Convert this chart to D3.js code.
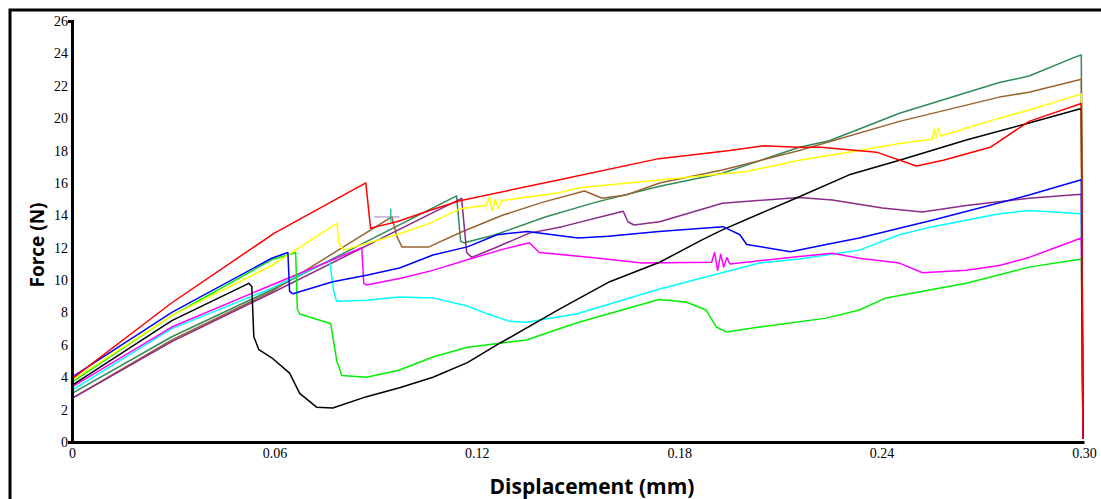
<!DOCTYPE html>
<html>
<head>
<meta charset="utf-8">
<script src="https://cdn.jsdelivr.net/npm/d3@7"></script>
<style>
  body { margin: 0; background: #fff; }
  svg { display: block; }
</style>
</head>
<body>
<div id="chart"></div>
<script>
// tick labels
var xTicks = [0, 0.06, 0.12, 0.18, 0.24, 0.30];
var yTicks = [0, 2, 4, 6, 8, 10, 12, 14, 16, 18, 20, 22, 24, 26];

// force-displacement curves, [displacement mm, force N]
var redCurve = [[0,3.9],[0.0296,8.6],[0.06,12.9],[0.0871,16.0],[0.0885,13.2],[0.0903,13.3],[0.0963,13.6],[0.106,14.3],
  [0.115,14.9],[0.1445,16.2],[0.174,17.5],[0.195,18.0],[0.205,18.3],[0.215,18.2],[0.222,18.2],[0.2385,17.9],
  [0.2503,17.05],[0.2583,17.4],[0.2722,18.2],[0.2837,19.8],[0.2992,20.9],[0.2997,0.2]];
var blueCurve = [[0,4.0],[0.0296,8.0],[0.0592,11.35],[0.064,11.7],[0.0645,9.3],[0.0655,9.15],[0.0773,9.9],[0.0873,10.3],
  [0.0971,10.75],[0.107,11.55],[0.1172,12.05],[0.126,12.8],[0.135,13.0],[0.150,12.6],[0.159,12.7],[0.174,13.0],
  [0.193,13.3],[0.198,12.8],[0.2,12.2],[0.213,11.75],[0.2236,12.2],[0.2334,12.6],[0.255,13.7],[0.2837,15.25],
  [0.2992,16.2],[0.2997,0.2]];
var greenCurve = [[0,3.7],[0.0296,7.8],[0.0592,11.25],[0.0663,11.7],[0.0668,8.2],[0.0675,7.9],[0.0761,7.35],[0.0767,7.3],
  [0.0785,5.0],[0.080,4.1],[0.0873,4.0],[0.0971,4.45],[0.107,5.25],[0.1172,5.85],[0.1347,6.3],[0.1495,7.35],
  [0.174,8.8],[0.182,8.65],[0.188,8.15],[0.191,7.1],[0.194,6.8],[0.2038,7.1],[0.2236,7.65],[0.2334,8.15],
  [0.2413,8.9],[0.2651,9.8],[0.2837,10.8],[0.2992,11.3],[0.2997,0.2]];
var yellowCurve = [[0,3.8],[0.0296,7.8],[0.0592,10.9],[0.0785,13.5],[0.0791,12.3],[0.0805,11.85],[0.0963,12.8],[0.106,13.5],
  [0.115,14.4],[0.1228,14.6],[0.1237,15.1],[0.1246,14.3],[0.1255,15.0],[0.1264,14.4],[0.1273,14.9],[0.1445,15.4],
  [0.1504,15.7],[0.175,16.2],[0.2,16.7],[0.2156,17.4],[0.2334,18.0],[0.2457,18.45],[0.2550,18.7],[0.2556,19.3],
  [0.2562,18.8],[0.2568,19.4],[0.2575,18.9],[0.2749,20.0],[0.2837,20.5],[0.2992,21.5],[0.2997,0.2]];
var blackCurve = [[0,3.5],[0.0296,7.5],[0.0524,9.8],[0.0533,9.6],[0.0539,6.5],[0.0554,5.7],[0.0592,5.2],[0.0645,4.25],
  [0.0675,3.0],[0.0725,2.15],[0.0773,2.1],[0.0873,2.8],[0.0971,3.35],[0.107,4.0],[0.1172,4.9],[0.1268,6.1],
  [0.1445,8.2],[0.1594,9.9],[0.1742,11.1],[0.1869,12.5],[0.1928,13.1],[0.2156,15.15],[0.2304,16.5],[0.2453,17.4],
  [0.2651,18.65],[0.2837,19.7],[0.2992,20.6],[0.2997,0.2]];
var cyanCurve = [[0,3.2],[0.0296,7.0],[0.0592,9.5],[0.0764,11.2],[0.0775,9.4],[0.0784,8.7],[0.0873,8.75],[0.0971,8.95],
  [0.107,8.9],[0.1172,8.4],[0.1233,7.9],[0.1297,7.45],[0.1347,7.4],[0.1495,7.9],[0.1742,9.45],[0.2038,11.05],
  [0.2156,11.3],[0.2334,11.85],[0.2453,12.8],[0.2551,13.3],[0.2749,14.1],[0.2837,14.3],[0.2992,14.1],[0.2997,0.2]];
var magentaCurve = [[0,3.4],[0.0296,7.1],[0.0592,9.7],[0.0859,12.0],[0.0865,9.8],[0.0873,9.7],[0.0971,10.1],[0.107,10.6],
  [0.1172,11.25],[0.1268,11.85],[0.1356,12.3],[0.1385,11.7],[0.1541,11.4],[0.169,11.05],[0.1896,11.1],[0.1905,11.7],
  [0.1914,10.6],[0.1923,11.6],[0.1932,10.8],[0.1941,11.4],[0.1950,11.0],[0.2156,11.45],[0.2254,11.65],[0.2334,11.35],
  [0.2453,11.05],[0.2521,10.45],[0.2651,10.6],[0.2749,10.9],[0.2837,11.4],[0.2992,12.6],[0.2997,0.2]];
var brownCurve = [[0,2.7],[0.0296,6.3],[0.0592,9.3],[0.0948,13.9],[0.0963,12.7],[0.0978,12.05],[0.1058,12.05],[0.1158,13.0],
  [0.1276,14.0],[0.1394,14.8],[0.1519,15.5],[0.1572,15.05],[0.1643,15.25],[0.1742,16.0],[0.1928,16.8],[0.2156,18.0],
  [0.2453,19.8],[0.2749,21.3],[0.2837,21.6],[0.2992,22.4],[0.2997,0.2]];
var seaGreenCurve = [[0,3.0],[0.0296,6.5],[0.0592,9.4],[0.114,15.2],[0.1152,12.4],[0.1163,12.3],[0.1255,12.8],[0.1403,13.9],
  [0.1551,14.8],[0.1742,15.8],[0.1928,16.6],[0.2156,18.2],[0.2245,18.6],[0.2453,20.3],[0.2749,22.2],[0.2837,22.6],
  [0.2977,23.8],[0.2992,23.9],[0.2997,0.2]];
var purpleCurve = [[0,2.7],[0.0296,6.2],[0.0592,9.2],[0.1155,15.05],[0.117,11.7],[0.1185,11.4],[0.1255,12.0],[0.1356,12.9],
  [0.1453,13.3],[0.1634,14.25],[0.1648,13.6],[0.1666,13.4],[0.1742,13.6],[0.1928,14.75],[0.2156,15.1],[0.2254,14.95],
  [0.2402,14.45],[0.2521,14.2],[0.2651,14.6],[0.2837,15.05],[0.2992,15.3],[0.2997,0.2]];
// small cursor-like marks near 0.09 mm
var lavenderMark = [[0.0897,13.9],[0.0971,13.9]];
var tealMark = [[0.0945,13.6],[0.0945,14.4]];

var series = [
  {name: "lavender", color: "#b9a8dc", values: lavenderMark},
  {name: "seagreen", color: "#2e8b57", values: seaGreenCurve},
  {name: "brown", color: "#9a6330", values: brownCurve},
  {name: "purple", color: "#8a2a8a", values: purpleCurve},
  {name: "cyan", color: "#00ffff", values: cyanCurve},
  {name: "magenta", color: "#ff00ff", values: magentaCurve},
  {name: "green", color: "#00f000", values: greenCurve},
  {name: "yellow", color: "#ffff00", values: yellowCurve},
  {name: "black", color: "#000000", values: blackCurve},
  {name: "blue", color: "#0000ff", values: blueCurve},
  {name: "red", color: "#ff0000", values: redCurve},
  {name: "teal", color: "#33c0a0", values: tealMark}
];

var width = 1101, height = 499;

var svg = d3.select("#chart")
    .append("svg")
    .attr("width", width)
    .attr("height", height);

// outer frame
svg.append("rect")
    .attr("x", 10)
    .attr("y", 10)
    .attr("width", width)
    .attr("height", height)
    .attr("fill", "none")
    .attr("stroke", "#000")
    .attr("stroke-width", 3);

var x = d3.scaleLinear().domain([0, 0.3]).range([72, 1084]);
var y = d3.scaleLinear().domain([0, 26]).range([442, 21]);

var line = d3.line()
    .x(function (d) { return x(d[0]); })
    .y(function (d) { return y(d[1]); });

svg.selectAll(".curve")
    .data(series)
    .enter()
    .append("path")
    .attr("class", "curve")
    .attr("d", function (d) { return line(d.values); })
    .attr("fill", "none")
    .attr("stroke", function (d) { return d.color; })
    .attr("stroke-width", 1.5)
    .attr("stroke-linejoin", "round");

// axes
svg.append("g")
    .attr("transform", "translate(0," + y(0) + ")")
    .call(d3.axisBottom(x)
        .tickValues(xTicks)
        .tickSize(0)
        .tickSizeOuter(0)
        .tickPadding(6)
        .tickFormat(function (d) { return d === 0 ? "0" : d3.format(".2f")(d); }));

svg.append("g")
    .attr("transform", "translate(" + x(0) + ",0)")
    .call(d3.axisLeft(y)
        .tickValues(yTicks)
        .tickSize(0)
        .tickSizeOuter(4)
        .tickPadding(4));

svg.selectAll(".domain")
    .attr("stroke", "#000")
    .attr("stroke-width", 3);

svg.selectAll(".tick text")
    .attr("fill", "#000")
    .style("font-family", "'Liberation Serif', 'Times New Roman', serif")
    .style("font-size", "14px");

// axis titles
svg.append("text")
    .attr("transform", "translate(44,245) rotate(-90)")
    .attr("text-anchor", "middle")
    .style("font-family", "'Open Sans', sans-serif")
    .style("font-weight", "bold")
    .style("font-size", "19px")
    .text("Force (N)");

svg.append("text")
    .attr("x", 592)
    .attr("y", 494)
    .attr("text-anchor", "middle")
    .style("font-family", "'Open Sans', sans-serif")
    .style("font-weight", "bold")
    .style("font-size", "21px")
    .text("Displacement (mm)");
</script>
</body>
</html>
